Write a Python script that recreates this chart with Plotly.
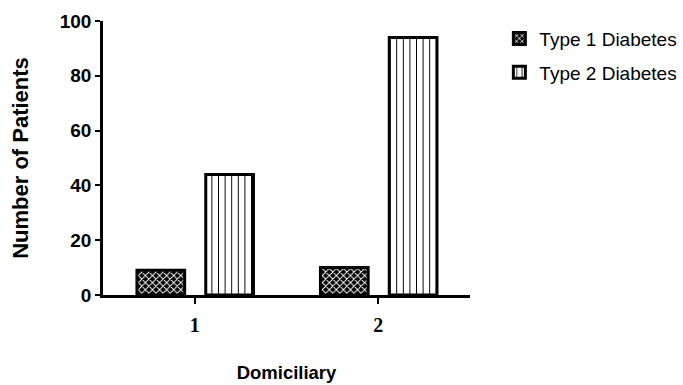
import plotly.graph_objects as go

categories = [1, 2]
tick_labels = ["1", "2"]
type1 = [9, 10]
type2 = [44, 94]

fig = go.Figure()
fig.add_trace(go.Bar(
    x=categories, y=type1, name="Type 1 Diabetes", legendgroup="t1",
    width=0.26, offset=-0.315,
    marker=dict(color="black", line=dict(color="black", width=3),
                pattern=dict(shape="x", fgcolor="white", bgcolor="black",
                             size=5, solidity=0.35, fillmode="replace")),
))
fig.add_trace(go.Bar(
    x=categories, y=type2, name="Type 2 Diabetes", legendgroup="t2",
    width=0.26, offset=0.06,
    marker=dict(color="white", line=dict(color="black", width=3),
                pattern=dict(shape="|", fgcolor="black", bgcolor="white",
                             size=6.6, solidity=0.15, fillmode="replace")),
))

fig.update_layout(
    width=683, height=385,
    margin=dict(l=103, r=213, t=21, b=90, autoexpand=False),
    plot_bgcolor="white", paper_bgcolor="white",
    barmode="overlay",
    showlegend=True,
    legend=dict(x=1.08, y=1.005, xanchor="left", yanchor="top",
                font=dict(family="Liberation Sans, Arial", size=19, color="black"),
                tracegroupgap=6, itemwidth=30),
    font=dict(family="Liberation Sans, Arial", color="black"),
)
fig.update_xaxes(
    range=[0.5, 2.5], tickvals=categories, ticktext=tick_labels,
    automargin=False,
    showline=True, linecolor="black", linewidth=2.5,
    ticks="outside", ticklen=6, tickwidth=2, tickcolor="black",
    ticklabelstandoff=4,
    tickfont=dict(family="Liberation Serif, Times New Roman", size=20, color="black", weight="bold"),
    showgrid=False, zeroline=False,
    title=dict(text="<b>Domiciliary</b>", font=dict(family="Liberation Sans, Arial", size=18.5), standoff=32),
)
fig.update_yaxes(
    range=[0, 100], tickvals=[0, 20, 40, 60, 80, 100],
    automargin=False,
    showline=True, linecolor="black", linewidth=2.5,
    ticks="outside", ticklen=5, tickwidth=2, tickcolor="black",
    tickfont=dict(family="Liberation Sans, Arial", size=19, color="black", weight="bold"),
    showgrid=False, zeroline=False,
    title=dict(text="<b>Number of Patients</b>", font=dict(family="Liberation Sans, Arial", size=22), standoff=26),
)

fig.write_html(
    "out.html",
    config={"displayModeBar": False},
    post_script="document.body.style.margin='0';document.body.style.overflow='hidden';",
)
